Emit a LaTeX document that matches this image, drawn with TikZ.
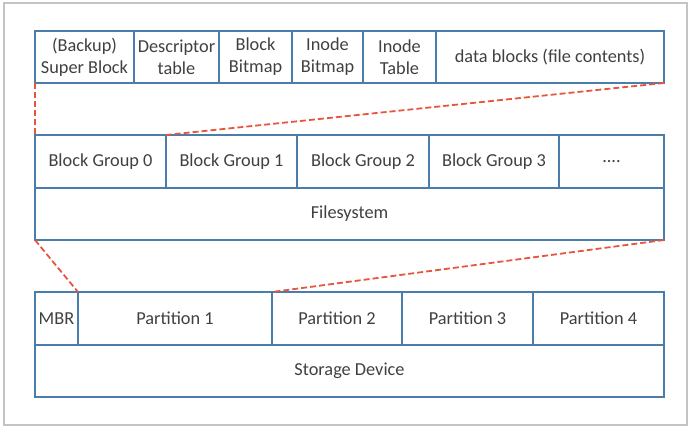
\documentclass[tikz,border=0pt]{standalone}
\usepackage{fontspec}
\setmainfont{Carlito}
\definecolor{boxblue}{HTML}{4A7DAA}
\definecolor{dashred}{HTML}{E8553E}
\definecolor{txt}{HTML}{404040}
\definecolor{framegray}{HTML}{C4C4C4}
\begin{document}
\begin{tikzpicture}[x=1pt,y=-1pt,
  cell/.style={draw=boxblue, line width=1.4pt, inner sep=0pt, outer sep=0pt,
    anchor=north west, align=center, text=txt,
    font=\fontsize{18.3}{22}\selectfont},
  link/.style={draw=dashred, line width=1.8pt, dash pattern=on 6pt off 3pt},
  outerframe/.style={draw=framegray, line width=1.8pt}]
\useasboundingbox (0,0) rectangle (692,435);
\draw[outerframe] (4,3) rectangle (687,425);
% top row
\node[cell, minimum width=99pt, minimum height=52pt] (sb) at (35,31) {(Backup)\\Super Block};
\node[cell, minimum width=85pt, minimum height=52pt] (dt) at (134,31) {Descriptor\\table};
\node[cell, minimum width=73pt, minimum height=52pt] (bb) at (219,31) {Block\\Bitmap};
\node[cell, minimum width=71pt, minimum height=52pt] (ib) at (292,31) {Inode\\Bitmap};
\node[cell, minimum width=73pt, minimum height=52pt] (it) at (363,31) {Inode\\Table};
\node[cell, minimum width=228pt, minimum height=52pt] (data) at (436,31) {data blocks (file contents)};
% block groups
\node[cell, minimum width=131pt, minimum height=53pt] (bg0) at (35,135) {Block Group 0};
\node[cell, minimum width=131pt, minimum height=53pt] (bg1) at (166,135) {Block Group 1};
\node[cell, minimum width=132pt, minimum height=53pt] (bg2) at (297,135) {Block Group 2};
\node[cell, minimum width=130pt, minimum height=53pt] (bg3) at (429,135) {Block Group 3};
\node[cell, minimum width=105pt, minimum height=53pt] (bgx) at (559,135) {....};
\node[cell, minimum width=629pt, minimum height=52pt] (fs) at (35,188) {Filesystem};
% storage
\node[cell, minimum width=43pt, minimum height=53pt] (mbr) at (35,292) {MBR};
\node[cell, minimum width=194pt, minimum height=53pt] (p1) at (78,292) {Partition 1};
\node[cell, minimum width=130pt, minimum height=53pt] (p2) at (272,292) {Partition 2};
\node[cell, minimum width=131pt, minimum height=53pt] (p3) at (402,292) {Partition 3};
\node[cell, minimum width=131pt, minimum height=53pt] (p4) at (533,292) {Partition 4};
\node[cell, minimum width=629pt, minimum height=52pt] (sd) at (35,345) {Storage Device};
% dashed links
\draw[link] (sb.south west) -- (bg0.north west);
\draw[link] (data.south east) -- (bg1.north west);
\draw[link] (fs.south west) -- (mbr.north east);
\draw[link] (fs.south east) -- (p2.north west);
\end{tikzpicture}
\end{document}
